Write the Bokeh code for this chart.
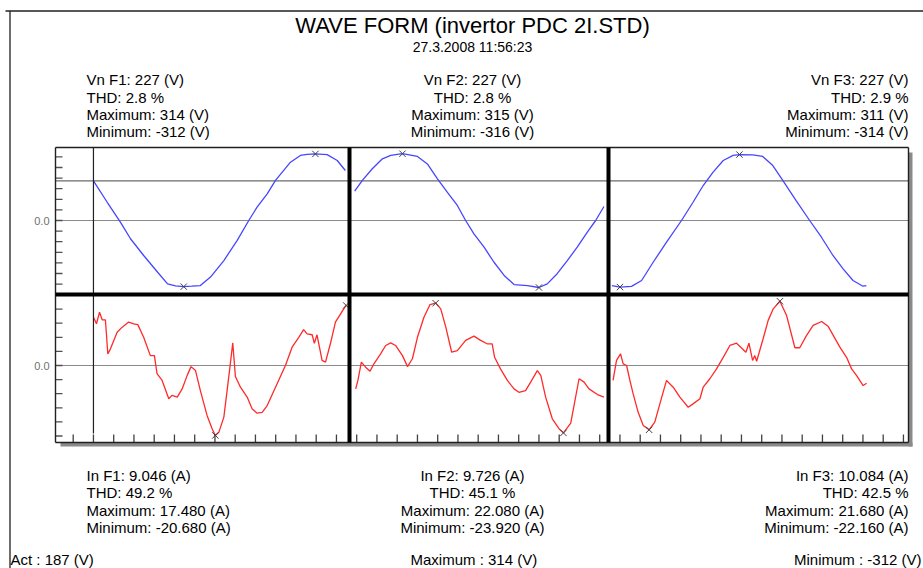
import numpy as np
from bokeh.plotting import figure
from bokeh.models import Range1d
from bokeh.core.properties import value
from bokeh.embed import file_html
from bokeh.resources import INLINE

# ---------------- data ----------------
phase_names = ["F1", "F2", "F3"]
phase_start = [20, 149, 276]          # sample index where each phase record starts
cursor_sample = 20                    # cursor position (sample)
cursor_act = 187                      # cursor value (V)
cursor_max = 314
cursor_min = -312

# voltage records: sample offset within record, volts
v1_t = [0, 6.8, 13.3, 18.3, 24.8, 31.7, 36.6, 40.5, 44.6, 48.5, 52.8, 57.8, 64.4, 71, 76.7,
        80.8, 85.8, 89.9, 97.3, 102.2, 105.5, 109.6, 115.4, 120.4, 124.4]
v1 = [187, 86, -8, -86, -165, -244, -299, -308, -312, -310, -307, -267, -189, -94, 0,
      63, 126, 189, 275, 307, 312, 314, 311, 283, 236]
v2_t = [0, 3.8, 8.7, 13.7, 17.8, 23.6, 31, 35.9, 40.8, 45.8, 50.7, 54.8, 58.9, 63.9, 68.8,
        73.8, 78.7, 85.3, 91, 95.1, 100, 105, 109.9, 114.9, 119, 123.1]
v2 = [138, 189, 244, 291, 307, 315, 302, 267, 197, 133, 71, 0, -63, -126, -197,
      -259, -302, -307, -316, -299, -251, -189, -126, -55, 0, 66]
v3_t = [0, 4, 9.7, 14.7, 20.4, 27, 34.4, 40.1, 45.1, 50, 55, 59.9, 63, 69.6, 74.5, 79.5,
        84.4, 91, 97.7, 103.5, 109.2, 114.2, 119.1, 124, 125.7]
v3 = [-307, -314, -311, -283, -197, -102, 0, 86, 165, 228, 283, 307, 311, 310, 302, 259,
      189, 94, 0, -79, -165, -228, -283, -310, -307]

# current records: sample offset within record, amps
i1_t = [0, 1.5, 3.0, 4.3, 5.9, 7.1, 8.4, 11.7, 14.2, 17.4, 19.9, 21.9, 24.8, 28.1, 30.1,
        31.4, 33.9, 37.2, 38.8, 41.4, 43.8, 46.3, 48.2, 50.4, 52.8, 56.1, 58.6, 60.2, 61.9,
        64.4, 67.3, 68.8, 70.1, 72.6, 75.9, 78.4, 80.8, 83.3, 85.8, 90.7, 94.8, 98.1, 101.4,
        103.8, 105.5, 108, 109.1, 110.4, 112.9, 114.6, 117, 119.5, 123.6, 124.8]
i1 = [17.1, 14.8, 18.9, 16.2, 16.2, 4.1, 5.9, 11.8, 13.6, 15.4, 14.8, 14.5, 10.0, 3.5, 3.5,
      -2.9, -5.3, -11.8, -10.6, -11.2, -8.3, -3.5, -0.4, -1.8, -8.9, -17.7, -22.4, -24.8, -23.7,
      -18.3, -1.2, 8.0, -3.9, -7.7, -11.2, -15.4, -16.9, -16.6, -14.2, -6.5, 0, 6.5, 10.0,
      12.7, 11.2, 10.9, 7.9, 10.9, 1.8, 1.2, 7.7, 15.4, 20.1, 21.3]
i2_t = [0.5, 1.6, 3.3, 5.4, 7.6, 9.5, 12.8, 15.3, 17.8, 20.2, 23.6, 26.1, 28.5, 31, 34.2,
        37.2, 40, 42.5, 45, 47.9, 50.7, 54.8, 58.9, 62.2, 65.4, 67.9, 69.1, 72, 75.4, 78.7,
        81.1, 84.4, 86.9, 90.2, 91.9, 94.3, 97.6, 100.9, 103.1, 106.7, 110.8, 113.3, 115.7,
        119.9, 123.1]
i2 = [-8.3, -5.3, 1.2, -0.6, -2.0, 0.6, 4.1, 7.1, 8.0, 7.1, 3.5, -0.4, 2.4, 10.0, 17.1,
      21.6, 22.1, 20.1, 13.6, 4.7, 5.3, 8.9, 10.4, 8.9, 7.7, 7.7, 2.9, -1.2, -5.3, -8.3,
      -9.5, -8.9, -5.9, -1.8, -3.5, -11.2, -18.9, -22.4, -23.9, -20.4, -4.7, -5.9, -8.3,
      -10.3, -11.2]
i3_t = [0.6, 2.3, 4.3, 5.6, 7.3, 8.9, 10.5, 13, 15.5, 18.4, 21.2, 23.7, 27, 30.3, 33.6,
        37.7, 40.1, 43.5, 45.1, 48.4, 51.7, 55, 58.3, 61.6, 66.2, 67.7, 69.5, 70.6, 71.5,
        74.7, 77.2, 79.7, 83, 86.3, 90.4, 92.8, 96.1, 99.4, 103.6, 106.9, 109.4, 112.6,
        115.9, 118.4, 120.8, 124.1, 125.8]
i3 = [-5.3, 1.8, 4.1, 0.6, 0, -5.3, -10.0, -16.6, -21.3, -22.8, -20.1, -13.6, -5.3, -7.7,
      -11.2, -14.8, -13.6, -11.8, -7.7, -4.7, -1.2, 2.9, 7.1, 7.9, 4.7, 7.9, 1.8, 3.5, 1.5,
      9.5, 16.0, 20.1, 22.8, 17.7, 6.3, 6.3, 10.6, 14.2, 15.6, 13.8, 10.6, 6.5, 2.9, -1.2,
      -3.5, -7.1, -6.3]

vn_rms = [227, 227, 227]
v_thd = [2.8, 2.8, 2.9]
v_max = [314, 315, 311]
v_min = [-312, -316, -314]
in_rms = ["9.046", "9.726", "10.084"]
i_thd = [49.2, 45.1, 42.5]
i_max = ["17.480", "22.080", "21.680"]
i_min = ["-20.680", "-23.920", "-22.160"]

title = "WAVE FORM (invertor PDC 2I.STD)"
subtitle = "27.3.2008 11:56:23"

v_ticks = [-300, -250, -200, -150, -100, -50, 0, 50, 100, 150, 200, 250, 300]
i_ticks = [-25, -20, -15, -10, -5, 0, 5, 10, 15, 20]
t_ticks = list(range(10, 421, 10))

# ---------------- layout (page pixel coordinates) ----------------
W, H = 923, 568
PX0, PY0 = 0, 0
X0, DX = 52.45, 2.025          # page x of sample 0, px per sample
YV0, KV = 220.0, 0.212          # page y of 0 V, px per volt
YI0, KI = 365.0, 2.82           # page y of 0 A, px per amp
FL, FR, FT, FB = 55, 908, 147, 442
MID = 294
DIV = [349, 608]
FONT = "Liberation Sans"

p = figure(width=W, height=H, output_backend="svg", toolbar_location=None,
           x_axis_type=None, y_axis_type=None, min_border=0,
           x_range=Range1d(PX0, PX0 + W), y_range=Range1d(PY0 + H, PY0),
           outline_line_color=None, background_fill_color="white",
           border_fill_color="white")
p.grid.visible = False
p.extra_x_ranges = {"samp": Range1d((PX0 - X0) / DX, (PX0 + W - X0) / DX)}
p.extra_y_ranges = {
    "volt": Range1d((YV0 - (PY0 + H)) / KV, (YV0 - PY0) / KV),
    "amp": Range1d((YI0 - (PY0 + H)) / KI, (YI0 - PY0) / KI),
}

# outer page frame
p.segment(x0=[5, 9.5], y0=[10.5, 10.5], x1=[PX0 + W, 9.5], y1=[10.5, PY0 + H],
          line_color="#202020", line_width=1.3)

# shadows of the plot frame
p.quad(left=[60, FR], right=[FR + 4, FR + 4], top=[FB, 152], bottom=[FB + 4, FB + 4],
       fill_color="#8a8a8a", line_color=None)

# zero lines and cursor line
p.segment(x0=[FL], x1=[FR], y0=[0], y1=[0], y_range_name="volt",
          line_color="#8a8a8a", line_width=1.2)
p.segment(x0=[FL], x1=[FR], y0=[cursor_act], y1=[cursor_act], y_range_name="volt",
          line_color="#6a6a6a", line_width=1.2)
p.segment(x0=[FL], x1=[FR], y0=[0], y1=[0], y_range_name="amp",
          line_color="#8a8a8a", line_width=1.2)

# waveforms
v_t = [v1_t, v2_t, v3_t]
v_d = [v1, v2, v3]
i_t = [i1_t, i2_t, i3_t]
i_d = [i1, i2, i3]
for k in range(3):
    xs = np.array(v_t[k]) + phase_start[k]
    p.line(xs, v_d[k], x_range_name="samp", y_range_name="volt",
           line_color="#4646ff", line_width=1.3)
    xi = np.array(i_t[k]) + phase_start[k]
    p.line(xi, i_d[k], x_range_name="samp", y_range_name="amp",
           line_color="#ff2a2a", line_width=1.3)

# cursor vertical
p.segment(x0=[cursor_sample], x1=[cursor_sample], y0=[FT], y1=[433],
          x_range_name="samp", line_color="#202020", line_width=1.2)

# max / min markers
for k in range(3):
    va = np.array(v_d[k]); ta = np.array(v_t[k]) + phase_start[k]
    ia = np.array(i_d[k]); tia = np.array(i_t[k]) + phase_start[k]
    p.scatter(ta[[va.argmax(), va.argmin()]], va[[va.argmax(), va.argmin()]],
              x_range_name="samp", y_range_name="volt", marker="x", size=9,
              line_color="#404040", line_width=1)
    p.scatter(tia[[ia.argmax(), ia.argmin()]], ia[[ia.argmax(), ia.argmin()]],
              x_range_name="samp", y_range_name="amp", marker="x", size=9,
              line_color="#404040", line_width=1)

# ticks
p.segment(x0=[FL] * len(v_ticks), x1=[FL + 7] * len(v_ticks), y0=v_ticks, y1=v_ticks,
          y_range_name="volt", line_color="#505050", line_width=1.3)
p.segment(x0=[FL] * len(i_ticks), x1=[FL + 7] * len(i_ticks), y0=i_ticks, y1=i_ticks,
          y_range_name="amp", line_color="#505050", line_width=1.3)
p.segment(x0=t_ticks, x1=t_ticks, y0=[FB] * len(t_ticks), y1=[FB - 8] * len(t_ticks),
          x_range_name="samp", line_color="#404040", line_width=1.3)

# plot frame and dividers
p.segment(x0=[FL, FL, FL, FR], y0=[FT, FT, FB, FT], x1=[FR, FL, FR, FR], y1=[FT, FB, FB, FB],
          line_color="#202020", line_width=1.4)
p.segment(x0=[FL] + DIV, y0=[MID, FT, FT], x1=[FR] + DIV, y1=[MID, FB, FB],
          line_color="black", line_width=4)

# axis labels
p.text(x=[49, 49], y=[YV0, YI0], text=["0.0", "0.0"], text_align="right",
       text_baseline="middle", text_font=value(FONT), text_font_size="11px",
       text_color="#707070")

# titles
p.text(x=[472], y=[25], text=[title], text_align="center", text_baseline="middle",
       text_font=value(FONT), text_font_size="22px", text_color="black")
p.text(x=[472], y=[46], text=[subtitle], text_align="center", text_baseline="middle",
       text_font=value(FONT), text_font_size="14px", text_color="black")

# info blocks
bx = [86, 472, 908]
ba = ["left", "center", "right"]
top_rows = [79, 97, 114, 131]
bot_rows = [475, 492, 510, 527]
for k in range(3):
    vt = [f"Vn {phase_names[k]}: {vn_rms[k]} (V)", f"THD: {v_thd[k]} %",
          f"Maximum: {v_max[k]} (V)", f"Minimum: {v_min[k]} (V)"]
    it = [f"In {phase_names[k]}: {in_rms[k]} (A)", f"THD: {i_thd[k]} %",
          f"Maximum: {i_max[k]} (A)", f"Minimum: {i_min[k]} (A)"]
    p.text(x=[bx[k]] * 4, y=top_rows, text=vt, text_align=ba[k], text_baseline="middle",
           text_font=value(FONT), text_font_size="15px", text_color="black")
    p.text(x=[bx[k]] * 4, y=bot_rows, text=it, text_align=ba[k], text_baseline="middle",
           text_font=value(FONT), text_font_size="15px", text_color="black")

# cursor readout
p.text(x=[10, 410], y=[559, 559],
       text=[f"Act : {cursor_act} (V)", f"Maximum : {cursor_max} (V)"],
       text_align="left", text_baseline="middle", text_font=value(FONT),
       text_font_size="15px", text_color="black")
p.text(x=[921], y=[559], text=[f"Minimum : {cursor_min} (V)"],
       text_align="right", text_baseline="middle", text_font=value(FONT),
       text_font_size="15px", text_color="black")

open("out.html", "w").write(file_html(p, INLINE))
